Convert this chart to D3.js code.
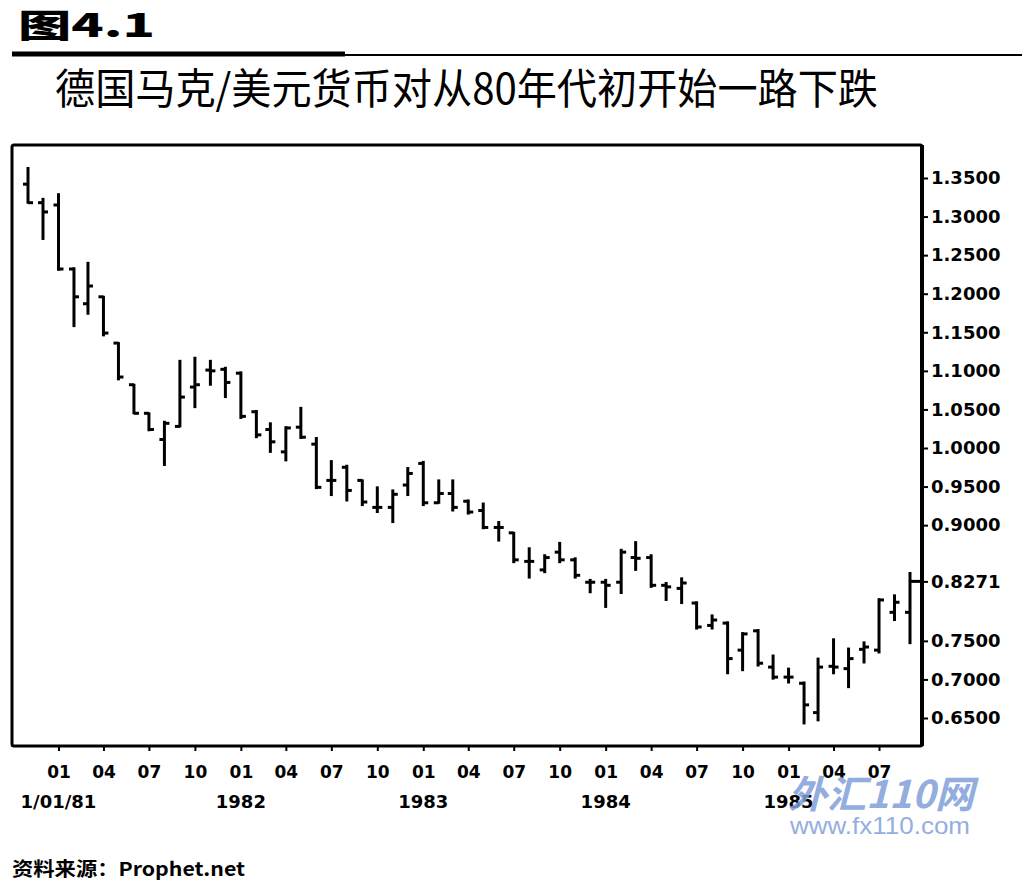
<!DOCTYPE html>
<html>
<head>
<meta charset="utf-8">
<script src="https://cdn.jsdelivr.net/npm/d3@7"></script>
<style>
  body { margin: 0; background: #fff; }
</style>
</head>
<body>
<div id="chart"></div>
<script>
// monthly bars, Nov 1980 .. Sep 1985
const months = [
  "1980-11","1980-12",
  "1981-01","1981-02","1981-03","1981-04","1981-05","1981-06","1981-07","1981-08","1981-09","1981-10","1981-11","1981-12",
  "1982-01","1982-02","1982-03","1982-04","1982-05","1982-06","1982-07","1982-08","1982-09","1982-10","1982-11","1982-12",
  "1983-01","1983-02","1983-03","1983-04","1983-05","1983-06","1983-07","1983-08","1983-09","1983-10","1983-11","1983-12",
  "1984-01","1984-02","1984-03","1984-04","1984-05","1984-06","1984-07","1984-08","1984-09","1984-10","1984-11","1984-12",
  "1985-01","1985-02","1985-03","1985-04","1985-05","1985-06","1985-07","1985-08","1985-09"
];
const openVals = [
  1.342, 1.318,
  1.315, 1.232, 1.187, 1.196, 1.136, 1.082, 1.045, 1.011, 1.028, 1.079, 1.101, 1.102,
  1.097, 1.047, 1.024, 0.995, 1.027, 1.005, 0.958, 0.975, 0.958, 0.923, 0.923, 0.952,
  0.980, 0.929, 0.941, 0.931, 0.919, 0.897, 0.890, 0.853, 0.842, 0.865, 0.855, 0.826,
  0.826, 0.826, 0.858, 0.858, 0.822, 0.818, 0.799, 0.770, 0.773, 0.738, 0.763, 0.716,
  0.703, 0.695, 0.657, 0.717, 0.714, 0.739, 0.738, 0.787, 0.787
];
const highVals = [
  1.363, 1.323,
  1.329, 1.233, 1.240, 1.196, 1.136, 1.082, 1.045, 1.034, 1.113, 1.117, 1.113, 1.104,
  1.098, 1.048, 1.032, 1.027, 1.052, 1.013, 0.983, 0.977, 0.958, 0.949, 0.945, 0.974,
  0.982, 0.958, 0.958, 0.932, 0.928, 0.904, 0.890, 0.870, 0.861, 0.877, 0.857, 0.829,
  0.829, 0.868, 0.878, 0.861, 0.825, 0.831, 0.800, 0.783, 0.774, 0.760, 0.764, 0.731,
  0.714, 0.696, 0.727, 0.752, 0.740, 0.748, 0.804, 0.809, 0.838
];
const lowVals = [
  1.318, 1.271,
  1.231, 1.158, 1.174, 1.146, 1.089, 1.045, 1.023, 0.978, 1.028, 1.053, 1.082, 1.066,
  1.039, 1.014, 0.995, 0.984, 1.013, 0.948, 0.939, 0.932, 0.926, 0.917, 0.904, 0.939,
  0.926, 0.929, 0.919, 0.915, 0.896, 0.880, 0.852, 0.832, 0.839, 0.852, 0.832, 0.813,
  0.794, 0.812, 0.842, 0.820, 0.803, 0.799, 0.766, 0.766, 0.708, 0.712, 0.718, 0.701,
  0.696, 0.643, 0.647, 0.708, 0.690, 0.722, 0.735, 0.777, 0.747
];
const closeVals = [
  1.318, 1.306,
  1.232, 1.196, 1.210, 1.149, 1.092, 1.045, 1.024, 1.032, 1.066, 1.082, 1.100, 1.085,
  1.041, 1.017, 1.008, 1.026, 1.014, 0.949, 0.958, 0.945, 0.930, 0.923, 0.940, 0.967,
  0.929, 0.941, 0.923, 0.917, 0.897, 0.897, 0.855, 0.853, 0.858, 0.855, 0.835, 0.826,
  0.822, 0.865, 0.857, 0.822, 0.820, 0.825, 0.768, 0.777, 0.727, 0.759, 0.721, 0.703,
  0.703, 0.667, 0.716, 0.716, 0.727, 0.742, 0.803, 0.800, 0.8271
];

// right axis labels (0.8500 / 0.8000 are hidden behind the last price)
const yTicks = [1.35, 1.30, 1.25, 1.20, 1.15, 1.10, 1.05, 1.00, 0.95, 0.90, 0.75, 0.70, 0.65];
const yearLabels = ["1/01/81", "1982", "1983", "1984", "1985"];

const titleText = "图4.1";
const subtitleText = "德国马克/美元货币对从80年代初开始一路下跌";
const sourceText = "资料来源：Prophet.net";

const parseMonth = d3.timeParse("%Y-%m");

document.addEventListener("DOMContentLoaded", function () {
  drawChart();
});

function drawChart() {
  var width = 1026, height = 886;
  var plot = { left: 12, top: 145, right: 922, bottom: 746 };

  var svg = d3.select("#chart")
    .append("svg")
    .attr("width", width)
    .attr("height", height)
    .style("font-family", "'DejaVu Sans', sans-serif");

  svg.append("rect")
    .attr("width", width)
    .attr("height", height)
    .attr("fill", "#fff");

  // heading
  svg.append("text")
    .attr("x", 18)
    .attr("y", 37)
    .attr("textLength", 137)
    .attr("lengthAdjust", "spacingAndGlyphs")
    .style("font-family", "'Noto Sans CJK SC', sans-serif")
    .style("font-size", "32px")
    .style("font-weight", "900")
    .text(titleText);

  svg.append("line")
    .attr("x1", 12).attr("x2", 345)
    .attr("y1", 54).attr("y2", 54)
    .attr("stroke", "#000")
    .attr("stroke-width", 5);
  svg.append("line")
    .attr("x1", 345).attr("x2", 1022)
    .attr("y1", 55).attr("y2", 55)
    .attr("stroke", "#000")
    .attr("stroke-width", 2);

  svg.append("text")
    .attr("x", 55)
    .attr("y", 104)
    .attr("textLength", 823)
    .attr("lengthAdjust", "spacingAndGlyphs")
    .style("font-family", "'Noto Sans CJK SC', sans-serif")
    .style("font-size", "42px")
    .text(subtitleText);

  // scales
  var dates = months.map(parseMonth);
  var x = d3.scaleTime()
    .domain([dates[0], dates[dates.length - 1]])
    .range([28, 910]);

  var y = d3.scaleLinear()
    .domain([0.65, 1.35])
    .range([718, 178]);

  var bars = dates.map(function (d, i) {
    return { date: d, o: openVals[i], h: highVals[i], l: lowVals[i], c: closeVals[i] };
  });

  // frame
  svg.append("rect")
    .attr("x", plot.left)
    .attr("y", plot.top)
    .attr("width", plot.right - plot.left)
    .attr("height", plot.bottom - plot.top)
    .attr("rx", 2)
    .attr("fill", "none")
    .attr("stroke", "#000")
    .attr("stroke-width", 3);
  svg.append("line")
    .attr("x1", plot.right).attr("x2", plot.right)
    .attr("y1", plot.top).attr("y2", plot.bottom)
    .attr("stroke", "#000")
    .attr("stroke-width", 4);

  // OHLC bars
  var g = svg.append("g")
    .attr("stroke", "#000")
    .attr("stroke-width", 3);

  g.selectAll(".hl")
    .data(bars)
    .enter()
    .append("line")
    .attr("x1", function (d) { return x(d.date); })
    .attr("x2", function (d) { return x(d.date); })
    .attr("y1", function (d) { return y(d.h) - 1; })
    .attr("y2", function (d) { return y(d.l) + 1; });

  g.selectAll(".open")
    .data(bars)
    .enter()
    .append("line")
    .attr("x1", function (d) { return x(d.date) - 5; })
    .attr("x2", function (d) { return x(d.date); })
    .attr("y1", function (d) { return y(d.o); })
    .attr("y2", function (d) { return y(d.o); });

  g.selectAll(".close")
    .data(bars)
    .enter()
    .append("line")
    .attr("x1", function (d) { return x(d.date); })
    .attr("x2", function (d, i) { return i === bars.length - 1 ? plot.right : x(d.date) + 5; })
    .attr("y1", function (d) { return y(d.c); })
    .attr("y2", function (d) { return y(d.c); });

  // right axis
  var lastClose = closeVals[closeVals.length - 1];
  var yAxis = svg.append("g")
    .attr("transform", "translate(" + plot.right + ",0)")
    .call(d3.axisRight(y)
      .tickValues(yTicks.concat([lastClose]))
      .tickFormat(d3.format(".4f"))
      .tickSize(6)
      .tickPadding(3));
  yAxis.select(".domain").remove();
  yAxis.selectAll("line").attr("stroke-width", 2);
  yAxis.selectAll("text")
    .attr("fill", "#000")
    .style("font-family", "'DejaVu Sans', sans-serif")
    .style("font-size", "18px")
    .style("font-weight", "bold");

  // bottom axis: quarter months
  var quarterTicks = dates.filter(function (d) { return d.getMonth() % 3 === 0; });
  var xAxis = svg.append("g")
    .attr("transform", "translate(0," + plot.bottom + ")")
    .call(d3.axisBottom(x)
      .tickValues(quarterTicks)
      .tickFormat(d3.timeFormat("%m"))
      .tickSize(5));
  xAxis.select(".domain").remove();
  xAxis.selectAll("line").attr("stroke-width", 2);
  xAxis.selectAll("text")
    .attr("y", 26)
    .attr("dy", "0.35em")
    .attr("fill", "#000")
    .style("font-family", "'DejaVu Sans', sans-serif")
    .style("font-size", "17px")
    .style("font-weight", "bold");

  // year labels under each January
  var januaries = dates.filter(function (d) { return d.getMonth() === 0; });
  svg.selectAll(".year")
    .data(januaries)
    .enter()
    .append("text")
    .attr("x", function (d) { return x(d); })
    .attr("y", 802)
    .attr("dy", "0.35em")
    .attr("text-anchor", "middle")
    .style("font-size", "18px")
    .style("font-weight", "bold")
    .text(function (d, i) { return yearLabels[i]; });

  // watermark (sits over the bottom labels, as in the scan)
  svg.append("text")
    .attr("x", 788)
    .attr("y", 808)
    .attr("textLength", 186)
    .attr("lengthAdjust", "spacingAndGlyphs")
    .attr("fill", "#7f9fd9")
    .attr("opacity", 0.85)
    .style("font-family", "'Noto Sans CJK SC', sans-serif")
    .style("font-size", "38px")
    .style("font-weight", "bold")
    .style("font-style", "italic")
    .text("外汇110网");
  svg.append("text")
    .attr("x", 790)
    .attr("y", 834)
    .attr("textLength", 180)
    .attr("lengthAdjust", "spacingAndGlyphs")
    .attr("fill", "#8aa6dc")
    .attr("opacity", 0.9)
    .style("font-family", "'Liberation Sans', sans-serif")
    .style("font-size", "24px")
    .text("www.fx110.com");

  // source
  svg.append("text")
    .attr("x", 12)
    .attr("y", 876)
    .attr("textLength", 233)
    .attr("lengthAdjust", "spacingAndGlyphs")
    .style("font-family", "'Noto Sans CJK SC', sans-serif")
    .style("font-size", "19px")
    .style("font-weight", "bold")
    .text(sourceText);
}
</script>
</body>
</html>
